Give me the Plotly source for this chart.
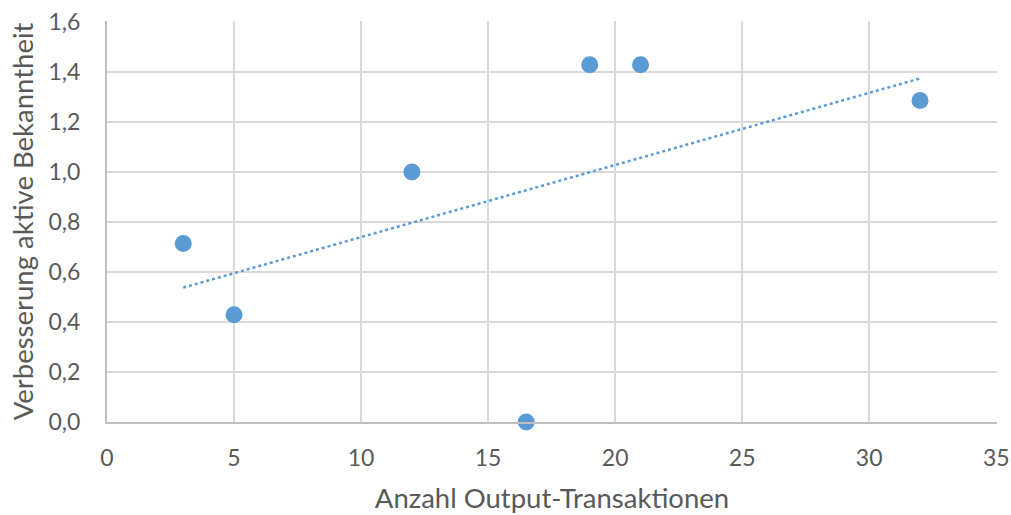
import numpy as np
import plotly.graph_objects as go

x_vals = [3, 5, 12, 16.5, 19, 21, 32]
y_vals = [0.714, 0.429, 1.0, 0.0, 1.429, 1.429, 1.286]
x_ticks = [0, 5, 10, 15, 20, 25, 30, 35]
y_ticks = [0, 0.2, 0.4, 0.6, 0.8, 1.0, 1.2, 1.4, 1.6]
y_labels = ["0,0", "0,2", "0,4", "0,6", "0,8", "1,0", "1,2", "1,4", "1,6"]

slope, intercept = np.polyfit(x_vals, y_vals, 1)
tx = [min(x_vals), max(x_vals)]
ty = [slope * v + intercept for v in tx]

color = "#5B9BD5"
font = "Lato, Carlito, 'Liberation Sans', sans-serif"

fig = go.Figure()
fig.add_trace(go.Scatter(x=tx, y=ty, mode="lines",
                         line=dict(color=color, width=2.5, dash="dot"),
                         hoverinfo="skip", showlegend=False))
fig.add_trace(go.Scatter(x=x_vals, y=y_vals, mode="markers",
                         marker=dict(color=color, size=17),
                         showlegend=False, cliponaxis=False))

fig.update_layout(
    width=1011, height=515,
    margin=dict(l=107, r=14, t=21, b=93),
    paper_bgcolor="white", plot_bgcolor="white",
    font=dict(family=font, color="#595959", size=23),
)
fig.update_xaxes(range=[0, 35.03], tickvals=x_ticks, ticktext=[str(t) for t in x_ticks],
                 showgrid=True, gridcolor="#d9d9d9", gridwidth=2,
                 showline=True, linecolor="#bfbfbf", linewidth=2,
                 zeroline=False, ticks="", ticklabelstandoff=14, automargin=False,
                 ticklabeloverflow="allow",
                 title=dict(text="Anzahl Output-Transaktionen", font=dict(size=27.5), standoff=19))
fig.update_yaxes(range=[0, 1.604], tickvals=y_ticks, ticktext=y_labels,
                 showgrid=True, gridcolor="#d9d9d9", gridwidth=2,
                 showline=True, linecolor="#bfbfbf", linewidth=2,
                 zeroline=False, ticks="", ticklabelstandoff=20, automargin=False,
                 ticklabeloverflow="allow",
                 title=dict(text="Verbesserung aktive Bekanntheit", font=dict(size=27.5), standoff=7))

fig.write_html("out.html", config={"displayModeBar": False},
               post_script="document.body.style.margin='0';")
